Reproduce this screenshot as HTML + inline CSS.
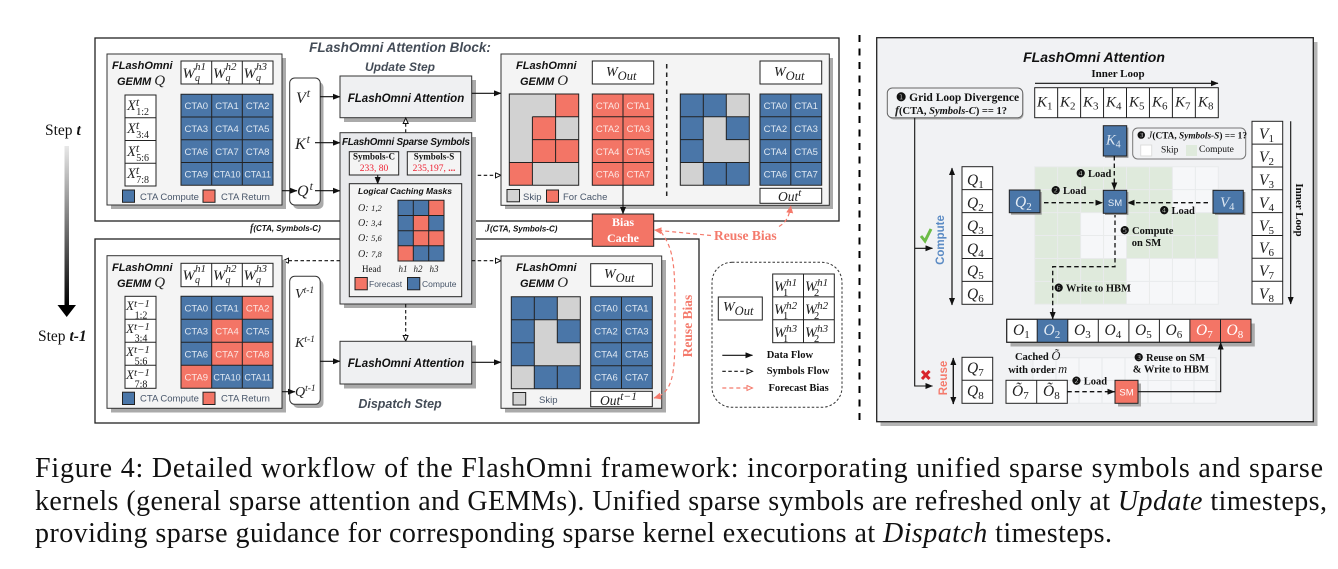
<!DOCTYPE html>
<html><head><meta charset="utf-8"><style>
html,body{margin:0;padding:0;background:#fff}
svg{display:block}
text{font-family:"Liberation Sans",sans-serif;fill:#111}
.s{font-family:"Liberation Serif",serif}
.m{font-family:"Liberation Serif",serif;font-style:italic;fill:#222}
.bi{font-weight:bold;font-style:italic}
.b{font-weight:bold}
.c{fill:#dfe8f2;font-size:9.5px;text-anchor:middle}
.cr{fill:#fde6e2;font-size:9.5px;text-anchor:middle}
.l{font-size:9.5px;fill:#48566a}
.box{stroke:#222;stroke-width:1;fill:#fff}
.g{stroke:#222;stroke-width:1;fill:none}
.a{stroke:#111;stroke-width:1.1;fill:none}
.d{stroke:#111;stroke-width:1.1;fill:none;stroke-dasharray:3.5 2.5}
.dk{stroke:#111;stroke-width:1.3;fill:none;stroke-dasharray:4.5 3}
.r{stroke:#f47a6c;stroke-width:1.2;fill:none;stroke-dasharray:4 3}
.bl{fill:#4a76a8}.re{fill:#f37566}.gr{fill:#d2d2d2}
</style></head><body>
<svg width="1338" height="569" viewBox="0 0 1338 569" xmlns="http://www.w3.org/2000/svg">
<defs>
<marker id="ah" markerWidth="8" markerHeight="6" refX="7" refY="3" orient="auto" markerUnits="userSpaceOnUse"><path d="M0,0L7.5,3L0,6z" fill="#111"/></marker>
<marker id="ao" markerWidth="8" markerHeight="7" refX="6" refY="3" orient="auto" markerUnits="userSpaceOnUse"><path d="M0.5,0.5L6,3L0.5,5.5z" fill="#fff" stroke="#111"/></marker>
<marker id="ar" markerWidth="9" markerHeight="8" refX="7" refY="3.5" orient="auto" markerUnits="userSpaceOnUse"><path d="M0,0L7.5,3.5L0,7z" fill="#f47a6c"/></marker>
<marker id="aro" markerWidth="8" markerHeight="7" refX="6" refY="3" orient="auto" markerUnits="userSpaceOnUse"><path d="M0.5,0.5L6,3L0.5,5.5z" fill="#fff" stroke="#f47a6c"/></marker>
<linearGradient id="gd" x1="0" y1="0" x2="0" y2="1"><stop offset="0" stop-color="#e8e8e8"/><stop offset="1" stop-color="#000"/></linearGradient>
</defs>

<!-- Step arrow -->
<text x="45" y="135" class="s" font-size="15.5">Step <tspan class="b" font-style="italic">t</tspan></text>
<rect x="64.5" y="146" width="4.5" height="160" fill="url(#gd)"/>
<path d="M57.5,305H76L66.7,317z" fill="#000"/>
<text x="38" y="341" class="s" font-size="15.5">Step <tspan class="b" font-style="italic">t-1</tspan></text>

<!-- Outer boxes -->
<rect x="95" y="38" width="744" height="183" fill="#fff" stroke="#222" stroke-width="1.3"/>
<rect x="95" y="239" width="604" height="184" fill="#fff" stroke="#222" stroke-width="1.3"/>
<text x="400" y="52" text-anchor="middle" class="bi" font-size="13.5" style="fill:#444c57">FLashOmni Attention Block:</text>
<text x="400" y="71" text-anchor="middle" class="bi" font-size="12" style="fill:#444c57">Update Step</text>
<text x="400" y="408" text-anchor="middle" class="bi" font-size="12.5" style="fill:#444c57">Dispatch Step</text>

<!-- Upper GEMM Q -->
<rect x="111" y="58" width="175" height="151" fill="#aaa"/>
<rect x="107" y="54" width="175" height="151" fill="#f4f4f4" stroke="#333"/>
<text x="112" y="69" class="bi" font-size="11">FLashOmni</text>
<text x="117" y="85" class="bi" font-size="11">GEMM <tspan class="m" font-size="15" font-weight="normal">Q</tspan></text>
<rect x="181" y="61" width="92" height="23" class="box"/><path d="M211.7,61V84M242.3,61V84" class="g"/>
<text x="182.5" y="78" class="m" font-size="15">W<tspan dy="3" font-size="10">q</tspan><tspan dy="-11" dx="-5" font-size="11">h1</tspan></text>
<text x="213" y="78" class="m" font-size="15">W<tspan dy="3" font-size="10">q</tspan><tspan dy="-11" dx="-5" font-size="11">h2</tspan></text>
<text x="243.5" y="78" class="m" font-size="15">W<tspan dy="3" font-size="10">q</tspan><tspan dy="-11" dx="-5" font-size="11">h3</tspan></text>
<rect x="125" y="95" width="31" height="91" class="box"/><path d="M125,117.7H156M125,140.5H156M125,163.2H156" class="g"/>
<text x="127" y="110" class="m" font-size="14.5">X<tspan dy="-4" dx="0" font-size="12">t</tspan><tspan dy="9" dx="-3" font-size="10" font-style="normal">1:2</tspan></text>
<text x="127" y="133" class="m" font-size="14.5">X<tspan dy="-4" font-size="12">t</tspan><tspan dy="9" dx="-3" font-size="10" font-style="normal">3:4</tspan></text>
<text x="127" y="156" class="m" font-size="14.5">X<tspan dy="-4" font-size="12">t</tspan><tspan dy="9" dx="-3" font-size="10" font-style="normal">5:6</tspan></text>
<text x="127" y="178" class="m" font-size="14.5">X<tspan dy="-4" font-size="12">t</tspan><tspan dy="9" dx="-3" font-size="10" font-style="normal">7:8</tspan></text>
<rect x="181" y="94.3" width="92" height="91" class="bl"/>
<path d="M181,94.3H273V185.3H181zM211.7,94.3V185.3M242.3,94.3V185.3M181,117H273M181,139.8H273M181,162.5H273" class="g"/>
<text class="c" x="196.3" y="109">CTA0</text><text class="c" x="227" y="109">CTA1</text><text class="c" x="257.7" y="109">CTA2</text>
<text class="c" x="196.3" y="132">CTA3</text><text class="c" x="227" y="132">CTA4</text><text class="c" x="257.7" y="132">CTA5</text>
<text class="c" x="196.3" y="155">CTA6</text><text class="c" x="227" y="155">CTA7</text><text class="c" x="257.7" y="155">CTA8</text>
<text class="c" x="196.3" y="177.5">CTA9</text><text class="c" x="227" y="177.5" style="font-size:9px">CTA10</text><text class="c" x="257.7" y="177.5" style="font-size:9px">CTA11</text>
<rect x="122.5" y="190" width="12" height="12.3" class="bl" stroke="#222"/><text x="140" y="200" class="l">CTA Compute</text>
<rect x="203" y="190" width="12" height="12.3" class="re" stroke="#222"/><text x="221" y="200" class="l">CTA Return</text>

<!-- Upper VKQ -->
<rect x="293" y="82" width="30.5" height="127" rx="5" fill="#aaa"/>
<rect x="289.7" y="78" width="30.5" height="127" rx="5" fill="#fff" stroke="#333"/>
<text x="296" y="103" class="m" font-size="16">V<tspan dy="-6" dx="1" font-size="12">t</tspan></text>
<text x="295" y="149" class="m" font-size="16">K<tspan dy="-6" dx="1" font-size="12">t</tspan></text>
<text x="297" y="196" class="m" font-size="16">Q<tspan dy="-6" dx="1" font-size="12">t</tspan></text>
<path d="M320,96.7H340" class="a" marker-end="url(#ah)"/>
<path d="M315,142.7H340" class="a" marker-end="url(#ah)"/>
<path d="M315,190.7H340" class="a" marker-end="url(#ah)"/>
<path d="M282,190.7H297" class="a" marker-end="url(#ah)"/>

<!-- Upper attention -->
<rect x="344" y="80" width="132" height="42" fill="#aaa"/>
<rect x="340" y="76" width="131.7" height="41.7" fill="#eff0f2" stroke="#333"/>
<text x="406" y="102" text-anchor="middle" class="bi" font-size="11.5">FLashOmni Attention</text>
<path d="M471.7,93.3H501" class="a" marker-end="url(#ah)"/>
<path d="M471.7,175.3H501" class="d" marker-end="url(#ao)"/>
<path d="M405.7,132.7V118" class="d" marker-end="url(#ao)"/>

<!-- Upper GEMM O -->
<rect x="505" y="58" width="328" height="151" fill="#aaa"/>
<rect x="501" y="54" width="328.3" height="151.3" fill="#f4f4f4" stroke="#333"/>
<text x="516" y="69" class="bi" font-size="11">FLashOmni</text>
<text x="520" y="85" class="bi" font-size="11">GEMM <tspan class="m" font-size="15" font-weight="normal">O</tspan></text>
<rect x="592.3" y="61" width="61.4" height="23" class="box"/>
<text x="606" y="76" class="m" font-size="14">W<tspan dy="4" font-size="12.5">Out</tspan></text>
<rect x="760" y="61" width="61.7" height="23" class="box"/>
<text x="774" y="76" class="m" font-size="14">W<tspan dy="4" font-size="12.5">Out</tspan></text>
<path d="M666.7,64V197" stroke="#222" stroke-width="1.5" stroke-dasharray="4.5 4"/>
<!-- grid1 -->
<rect x="509.3" y="94" width="69.4" height="91.3" class="gr"/>
<rect x="555.6" y="94" width="23.1" height="22.8" class="re"/><rect x="532.4" y="116.8" width="23.2" height="22.8" class="re"/><rect x="532.4" y="139.6" width="46.3" height="22.8" class="re"/><rect x="509.3" y="162.5" width="23.1" height="22.8" class="re"/>
<path d="M509.3,94H578.7V185.3H509.3zM555.6,94V116.8H578.7M532.4,116.8H555.6V162.5M555.6,116.8V162.5M532.4,139.6H578.7M509.3,162.5H578.7M532.4,116.8V185.3" class="g"/>
<!-- red CTA -->
<rect x="592.3" y="94" width="61.4" height="91.3" class="re"/>
<path d="M592.3,94H653.7V185.3H592.3zM623,94V185.3M592.3,116.8H653.7M592.3,139.6H653.7M592.3,162.5H653.7" class="g"/>
<text class="cr" x="607.7" y="109">CTA0</text><text class="cr" x="638.4" y="109">CTA1</text>
<text class="cr" x="607.7" y="132">CTA2</text><text class="cr" x="638.4" y="132">CTA3</text>
<text class="cr" x="607.7" y="155">CTA4</text><text class="cr" x="638.4" y="155">CTA5</text>
<text class="cr" x="607.7" y="177.5">CTA6</text><text class="cr" x="638.4" y="177.5">CTA7</text>
<!-- grid2 -->
<rect x="680.3" y="94" width="69" height="91.3" class="gr"/>
<rect x="680.3" y="94" width="46" height="22.8" class="bl"/><rect x="680.3" y="116.8" width="23" height="45.6" class="bl"/><rect x="726.3" y="116.8" width="23" height="22.8" class="bl"/><rect x="703.3" y="162.5" width="46" height="22.8" class="bl"/>
<path d="M680.3,94H749.3V185.3H680.3zM703.3,94V185.3M726.3,94V139.6H749.3M680.3,116.8H749.3M680.3,139.6H703.3M680.3,162.5H749.3M726.3,162.5V185.3" class="g"/>
<rect x="760" y="94" width="61.7" height="91.3" class="bl"/>
<path d="M760,94H821.7V185.3H760zM790.8,94V185.3M760,116.8H821.7M760,139.6H821.7M760,162.5H821.7" class="g"/>
<text class="c" x="775.4" y="109">CTA0</text><text class="c" x="806.2" y="109">CTA1</text>
<text class="c" x="775.4" y="132">CTA2</text><text class="c" x="806.2" y="132">CTA3</text>
<text class="c" x="775.4" y="155">CTA4</text><text class="c" x="806.2" y="155">CTA5</text>
<text class="c" x="775.4" y="177.5">CTA6</text><text class="c" x="806.2" y="177.5">CTA7</text>
<rect x="507" y="189.5" width="12.5" height="12.3" class="gr" stroke="#222"/><text x="523" y="200" class="l">Skip</text>
<rect x="546.5" y="190" width="12" height="12.3" class="re" stroke="#222"/><text x="563" y="200" class="l">For Cache</text>
<rect x="760" y="188.3" width="61.7" height="15" class="box"/>
<text x="778" y="201" class="m" font-size="13.5">Out<tspan dy="-5" font-size="11">t</tspan></text>

<!-- Bias cache -->
<path d="M623,185V214" class="a" marker-end="url(#ah)"/>
<rect x="592.3" y="214" width="61.4" height="32.3" class="re" stroke="#222"/>
<text x="623" y="226" text-anchor="middle" class="b s" font-size="12" style="fill:#fff">Bias</text>
<text x="623" y="242" text-anchor="middle" class="b s" font-size="12" style="fill:#fff">Cache</text>
<text x="250" y="231" class="bi" font-size="8"><tspan class="m" font-size="10">f</tspan>(CTA, Symbols-C)</text>
<text x="485" y="231.6" class="bi" font-size="8"><tspan class="m" font-size="10">J</tspan>(CTA, Symbols-C)</text>

<!-- Sparse symbols -->
<rect x="344" y="137" width="132" height="171" fill="#aaa"/>
<rect x="340" y="132.7" width="131.7" height="171.3" fill="#e8e9ec" stroke="#333"/>
<text x="342" y="145" class="bi" font-size="9.8" textLength="128">FLashOmni Sparse Symbols</text>
<rect x="349.3" y="151.7" width="49.4" height="23.3" class="box" style="fill:#f4f4f4"/>
<rect x="407.3" y="151.7" width="53.4" height="23.3" class="box" style="fill:#f4f4f4"/>
<text x="374" y="159.5" text-anchor="middle" class="b s" font-size="9">Symbols-C</text>
<text x="434" y="159.5" text-anchor="middle" class="b s" font-size="9">Symbols-S</text>
<text x="374" y="171" text-anchor="middle" class="s" font-size="9.5" style="fill:#ee2233">233, 80</text>
<text x="434" y="171" text-anchor="middle" class="s" font-size="9.5" style="fill:#ee2233">235,197, <tspan font-weight="bold">...</tspan></text>
<path d="M377.7,175V184" class="a" marker-end="url(#ah)"/>
<rect x="349.3" y="183.7" width="112.4" height="113" class="box" style="fill:#f4f4f4"/>
<text x="405" y="194" text-anchor="middle" class="bi" font-size="8.5">Logical Caching Masks</text>
<text x="358" y="211" class="m" font-size="10">O: <tspan font-size="8.5">1,2</tspan></text>
<text x="358" y="226" class="m" font-size="10">O: <tspan font-size="8.5">3,4</tspan></text>
<text x="358" y="241" class="m" font-size="10">O: <tspan font-size="8.5">5,6</tspan></text>
<text x="358" y="257" class="m" font-size="10">O: <tspan font-size="8.5">7,8</tspan></text>
<rect x="398" y="200.3" width="46" height="60.7" class="bl"/>
<rect x="428.7" y="200.3" width="15.3" height="15.2" class="re"/><rect x="413.3" y="215.5" width="15.4" height="15.2" class="re"/><rect x="413.3" y="230.7" width="30.7" height="15.1" class="re"/><rect x="398" y="245.8" width="15.3" height="15.2" class="re"/>
<path d="M398,200.3H444V261H398zM413.3,200.3V261M428.7,200.3V261M398,215.5H444M398,230.7H444M398,245.8H444" class="g"/>
<text x="362" y="272" class="s" font-size="9" fill="#333">Head</text>
<text x="403" y="272" text-anchor="middle" class="m" font-size="9">h1</text><text x="418" y="272" text-anchor="middle" class="m" font-size="9">h2</text><text x="434" y="272" text-anchor="middle" class="m" font-size="9">h3</text>
<rect x="355" y="277.5" width="12.3" height="12.3" class="re" stroke="#222"/><text x="369" y="287" class="l" style="font-size:8.5px">Forecast</text>
<rect x="407.5" y="277.5" width="12.3" height="12.3" class="bl" stroke="#222"/><text x="422" y="287" class="l" style="font-size:8.5px">Compute</text>

<path d="M340,260.7H283" class="d" marker-end="url(#ao)"/>
<path d="M471.7,260.7H501" class="d" marker-end="url(#ao)"/>
<path d="M405.7,304V341" class="d" marker-end="url(#ao)"/>

<!-- Lower GEMM Q -->
<rect x="111" y="260" width="175" height="152.5" fill="#aaa"/>
<rect x="107" y="255.7" width="175" height="152.6" fill="#f4f4f4" stroke="#333"/>
<text x="112" y="271" class="bi" font-size="11">FLashOmni</text>
<text x="117" y="287" class="bi" font-size="11">GEMM <tspan class="m" font-size="15" font-weight="normal">Q</tspan></text>
<rect x="181" y="263.3" width="92" height="23.4" class="box"/><path d="M211.7,263.3V286.7M242.3,263.3V286.7" class="g"/>
<text x="182.5" y="280" class="m" font-size="15">W<tspan dy="3" font-size="10">q</tspan><tspan dy="-11" dx="-5" font-size="11">h1</tspan></text>
<text x="213" y="280" class="m" font-size="15">W<tspan dy="3" font-size="10">q</tspan><tspan dy="-11" dx="-5" font-size="11">h2</tspan></text>
<text x="243.5" y="280" class="m" font-size="15">W<tspan dy="3" font-size="10">q</tspan><tspan dy="-11" dx="-5" font-size="11">h3</tspan></text>
<rect x="125" y="296.3" width="31" height="92" class="box"/><path d="M125,319.3H156M125,342.3H156M125,365.3H156" class="g"/>
<text x="126" y="310" class="m" font-size="13">X<tspan dy="-3" font-size="11">t−1</tspan></text><text x="141" y="318.5" text-anchor="middle" class="s" font-size="10">1:2</text>
<text x="126" y="333" class="m" font-size="13">X<tspan dy="-3" font-size="11">t−1</tspan></text><text x="141" y="341.5" text-anchor="middle" class="s" font-size="10">3:4</text>
<text x="126" y="356" class="m" font-size="13">X<tspan dy="-3" font-size="11">t−1</tspan></text><text x="141" y="364.5" text-anchor="middle" class="s" font-size="10">5:6</text>
<text x="126" y="379" class="m" font-size="13">X<tspan dy="-3" font-size="11">t−1</tspan></text><text x="141" y="387.5" text-anchor="middle" class="s" font-size="10">7:8</text>
<rect x="181" y="296.3" width="92" height="92" class="bl"/>
<rect x="242.3" y="296.3" width="30.7" height="23" class="re"/><rect x="211.7" y="319.3" width="30.6" height="23" class="re"/><rect x="211.7" y="342.3" width="61.3" height="23" class="re"/><rect x="181" y="365.3" width="30.7" height="23" class="re"/>
<path d="M181,296.3H273V388.3H181zM211.7,296.3V388.3M242.3,296.3V388.3M181,319.3H273M181,342.3H273M181,365.3H273" class="g"/>
<text class="c" x="196.3" y="311.3">CTA0</text><text class="c" x="227" y="311.3">CTA1</text><text class="cr" x="257.7" y="311.3">CTA2</text>
<text class="c" x="196.3" y="334.3">CTA3</text><text class="cr" x="227" y="334.3">CTA4</text><text class="c" x="257.7" y="334.3">CTA5</text>
<text class="c" x="196.3" y="357.3">CTA6</text><text class="cr" x="227" y="357.3">CTA7</text><text class="cr" x="257.7" y="357.3">CTA8</text>
<text class="cr" x="196.3" y="380.3">CTA9</text><text class="c" x="227" y="380.3" style="font-size:9px">CTA10</text><text class="c" x="257.7" y="380.3" style="font-size:9px">CTA11</text>
<rect x="122.5" y="392.2" width="12" height="12.3" class="bl" stroke="#222"/><text x="140" y="401.5" class="l">CTA Compute</text>
<rect x="203" y="392.2" width="12" height="12.3" class="re" stroke="#222"/><text x="221" y="401.5" class="l">CTA Return</text>

<!-- Lower VKQ -->
<rect x="293" y="280" width="30.5" height="128" rx="5" fill="#aaa"/>
<rect x="289.7" y="276.3" width="30.5" height="128" rx="5" fill="#fff" stroke="#333"/>
<text x="295" y="298" class="m" font-size="14">V<tspan dy="-5" font-size="9.5">t-1</tspan></text>
<text x="295" y="347" class="m" font-size="14">K<tspan dy="-5" font-size="9.5">t-1</tspan></text>
<text x="295" y="396" class="m" font-size="14">Q<tspan dy="-5" font-size="9.5">t-1</tspan></text>
<path d="M282,391.7H295" class="a" marker-end="url(#ah)"/>
<path d="M320,361.3H340" class="a" marker-end="url(#ah)"/>
<rect x="344" y="345.5" width="132" height="43" fill="#aaa"/>
<rect x="340" y="341.3" width="131.7" height="42.7" fill="#eff0f2" stroke="#333"/>
<text x="406" y="367" text-anchor="middle" class="bi" font-size="11.5">FLashOmni Attention</text>
<path d="M471.7,362.3H501" class="a" marker-end="url(#ah)"/>

<!-- Lower GEMM O -->
<rect x="505" y="260" width="161" height="152.5" fill="#aaa"/>
<rect x="501" y="256" width="160.7" height="152.3" fill="#f4f4f4" stroke="#333"/>
<text x="516" y="271" class="bi" font-size="11">FLashOmni</text>
<text x="520" y="287" class="bi" font-size="11">GEMM <tspan class="m" font-size="15" font-weight="normal">O</tspan></text>
<rect x="590.7" y="263.7" width="61.6" height="22.6" class="box"/>
<text x="604" y="278" class="m" font-size="14">W<tspan dy="4" font-size="12.5">Out</tspan></text>
<rect x="511.3" y="296.7" width="69" height="92" class="gr"/>
<rect x="511.3" y="296.7" width="46" height="23" class="bl"/><rect x="511.3" y="319.7" width="23" height="46" class="bl"/><rect x="557.3" y="319.7" width="23" height="23" class="bl"/><rect x="534.3" y="365.7" width="46" height="23" class="bl"/>
<path d="M511.3,296.7H580.3V388.7H511.3zM534.3,296.7V388.7M557.3,296.7V342.7H580.3M511.3,319.7H580.3M511.3,342.7H534.3M511.3,365.7H580.3M557.3,365.7V388.7" class="g"/>
<rect x="590.7" y="296.7" width="61.6" height="92" class="bl"/>
<path d="M590.7,296.7H652.3V388.7H590.7zM621.5,296.7V388.7M590.7,319.7H652.3M590.7,342.7H652.3M590.7,365.7H652.3" class="g"/>
<text class="c" x="606" y="311.5">CTA0</text><text class="c" x="636.8" y="311.5">CTA1</text>
<text class="c" x="606" y="334.5">CTA2</text><text class="c" x="636.8" y="334.5">CTA3</text>
<text class="c" x="606" y="357.5">CTA4</text><text class="c" x="636.8" y="357.5">CTA5</text>
<text class="c" x="606" y="380.5">CTA6</text><text class="c" x="636.8" y="380.5">CTA7</text>
<rect x="513" y="392.5" width="12.7" height="12.5" class="gr" stroke="#222"/><text x="539" y="403" class="l">Skip</text>
<rect x="590.7" y="391.3" width="61.6" height="15.4" class="box"/>
<text x="600" y="405" class="m" font-size="13.5">Out<tspan dy="-5" font-size="11.5">t−1</tspan></text>

<!-- Reuse bias -->
<path d="M711,235.5L654.5,230" class="r" marker-end="url(#ar)"/>
<path d="M779,226.5C785,223 789,218 790.7,206" class="r" marker-end="url(#ar)"/>
<text x="714" y="240" class="b s" font-size="13.5" style="fill:#f47a6c">Reuse Bias</text>
<path d="M661,232C675,250 675,270 675,320C675,370 675,392 654,398" class="r" marker-end="url(#ar)"/>
<text transform="translate(692,326) rotate(-90)" text-anchor="middle" class="b s" font-size="13.5" style="fill:#f47a6c">Reuse Bias</text>

<!-- Legend -->
<rect x="712" y="262.3" width="130" height="145" rx="20" fill="#fff" stroke="#333" stroke-dasharray="2.5 2"/>
<rect x="718.3" y="297" width="44" height="23" class="box"/>
<text x="723" y="311" class="m" font-size="14">W<tspan dy="4" font-size="12.5">Out</tspan></text>
<rect x="772.7" y="274" width="61.6" height="68.7" class="box"/><path d="M803.5,274V342.7M772.7,296.9H834.3M772.7,319.8H834.3" class="g"/>
<text x="774" y="291" class="m" font-size="14.5">W<tspan dy="-5" font-size="11">h1</tspan></text><text x="783" y="296" class="s" font-size="10.5">1</text>
<text x="805" y="291" class="m" font-size="14.5">W<tspan dy="-5" font-size="11">h1</tspan></text><text x="814" y="296" class="s" font-size="10.5">2</text>
<text x="774" y="314" class="m" font-size="14.5">W<tspan dy="-5" font-size="11">h2</tspan></text><text x="783" y="319" class="s" font-size="10.5">1</text>
<text x="805" y="314" class="m" font-size="14.5">W<tspan dy="-5" font-size="11">h2</tspan></text><text x="814" y="319" class="s" font-size="10.5">2</text>
<text x="774" y="337" class="m" font-size="14.5">W<tspan dy="-5" font-size="11">h3</tspan></text><text x="783" y="342" class="s" font-size="10.5">1</text>
<text x="805" y="337" class="m" font-size="14.5">W<tspan dy="-5" font-size="11">h3</tspan></text><text x="814" y="342" class="s" font-size="10.5">2</text>
<path d="M722.3,355.3H752.5" class="a" marker-end="url(#ah)"/><text x="766.7" y="358" class="b s" font-size="10.5">Data Flow</text>
<path d="M722.3,371.3H752.5" class="d" marker-end="url(#ao)"/><text x="766.7" y="374" class="b s" font-size="10.5">Symbols Flow</text>
<path d="M722.3,388H752.5" class="r" marker-end="url(#aro)"/><text x="768.5" y="391" class="b s" font-size="10.5">Forecast Bias</text>

<!-- Divider -->
<path d="M859.5,35V426" stroke="#000" stroke-width="2" stroke-dasharray="7 6.5"/>

<!-- Right panel -->
<rect x="880.5" y="42" width="437" height="384" fill="#b5b5b5"/>
<rect x="876.7" y="37.7" width="436.6" height="384" fill="#f1f2f4" stroke="#222" stroke-width="1.3"/>
<text x="1094" y="62" text-anchor="middle" class="bi" font-size="14">FLashOmni Attention</text>
<text x="1118" y="77" text-anchor="middle" class="b s" font-size="11">Inner Loop</text>
<path d="M1035,83.3H1218" class="a" marker-end="url(#ah)"/>
<rect x="1034.7" y="87.7" width="183.6" height="30" class="box"/>
<path d="M1057.65,87.7V117.7M1080.6,87.7V117.7M1103.55,87.7V117.7M1126.5,87.7V117.7M1149.45,87.7V117.7M1172.4,87.7V117.7M1195.35,87.7V117.7" class="g"/>
<text x="1037" y="106.5" class="m" font-size="15">K<tspan dy="3" font-size="11" font-style="normal">1</tspan></text>
<text x="1060" y="106.5" class="m" font-size="15">K<tspan dy="3" font-size="11" font-style="normal">2</tspan></text>
<text x="1083" y="106.5" class="m" font-size="15">K<tspan dy="3" font-size="11" font-style="normal">3</tspan></text>
<text x="1106" y="106.5" class="m" font-size="15">K<tspan dy="3" font-size="11" font-style="normal">4</tspan></text>
<text x="1129" y="106.5" class="m" font-size="15">K<tspan dy="3" font-size="11" font-style="normal">5</tspan></text>
<text x="1152" y="106.5" class="m" font-size="15">K<tspan dy="3" font-size="11" font-style="normal">6</tspan></text>
<text x="1175" y="106.5" class="m" font-size="15">K<tspan dy="3" font-size="11" font-style="normal">7</tspan></text>
<text x="1198" y="106.5" class="m" font-size="15">K<tspan dy="3" font-size="11" font-style="normal">8</tspan></text>
<rect x="888.5" y="89.5" width="135" height="30" rx="5" fill="#aaa"/>
<rect x="887.3" y="88" width="135.4" height="29.7" rx="5" fill="#f1f2f4" stroke="#666"/>
<text x="896" y="101" class="b s" font-size="11.5">❶ Grid Loop Divergence</text>
<text x="895" y="114" class="b s" font-size="10.5"><tspan class="m" font-size="12">f</tspan>(CTA, <tspan font-style="italic">Symbols-C</tspan>) == 1?</text>

<!-- main grid -->
<rect x="1034.7" y="166.7" width="183.6" height="137.6" fill="#dfeadc"/>
<rect x="1172.4" y="166.7" width="45.9" height="45.9" fill="#f6f7f9"/>
<rect x="1080.6" y="212.6" width="45.9" height="45.9" fill="#f6f7f9"/>
<rect x="1126.5" y="258.5" width="91.8" height="45.8" fill="#f6f7f9"/>
<path d="M1034.7,166.7H1218.3V304.3H1034.7zM1057.65,166.7V304.3M1080.6,166.7V304.3M1103.55,166.7V304.3M1126.5,166.7V304.3M1149.45,166.7V304.3M1172.4,166.7V304.3M1195.35,166.7V304.3M1034.7,189.6H1218.3M1034.7,212.6H1218.3M1034.7,235.5H1218.3M1034.7,258.5H1218.3M1034.7,281.4H1218.3" stroke="#e9ebec" stroke-width="1" fill="none"/>
<!-- lower grid -->
<rect x="1033" y="357.7" width="183" height="45.6" fill="#f6f7f9"/>
<path d="M1033,357.7H1216V403.3H1033zM1056,357.7V403.3M1079,357.7V403.3M1102,357.7V403.3M1125,357.7V403.3M1148,357.7V403.3M1171,357.7V403.3M1194,357.7V403.3M1033,380.5H1216" stroke="#e6e8ea" fill="none"/>

<!-- Q/V cols -->
<rect x="962" y="166.7" width="30.7" height="137.6" class="box"/>
<path d="M962,189.6H992.7M962,212.6H992.7M962,235.5H992.7M962,258.5H992.7M962,281.4H992.7" class="g"/>
<text x="967" y="185" class="m" font-size="15.5">Q<tspan dy="3" font-size="11" font-style="normal">1</tspan></text>
<text x="967" y="208" class="m" font-size="15.5">Q<tspan dy="3" font-size="11" font-style="normal">2</tspan></text>
<text x="967" y="231" class="m" font-size="15.5">Q<tspan dy="3" font-size="11" font-style="normal">3</tspan></text>
<text x="967" y="254" class="m" font-size="15.5">Q<tspan dy="3" font-size="11" font-style="normal">4</tspan></text>
<text x="967" y="276" class="m" font-size="15.5">Q<tspan dy="3" font-size="11" font-style="normal">5</tspan></text>
<text x="967" y="299" class="m" font-size="15.5">Q<tspan dy="3" font-size="11" font-style="normal">6</tspan></text>
<rect x="962" y="357.3" width="30.7" height="46" class="box"/><path d="M962,380.3H992.7" class="g"/>
<text x="967" y="373" class="m" font-size="15.5">Q<tspan dy="3" font-size="11" font-style="normal">7</tspan></text>
<text x="967" y="396" class="m" font-size="15.5">Q<tspan dy="3" font-size="11" font-style="normal">8</tspan></text>
<path d="M952,305V168" class="a" marker-end="url(#ah)"/><path d="M952,168V305" class="a" marker-end="url(#ah)"/>
<path d="M953.3,404V358" class="a" marker-end="url(#ah)"/><path d="M953.3,358V404" class="a" marker-end="url(#ah)"/>
<rect x="1252" y="121.3" width="30.7" height="182.7" class="box"/>
<path d="M1252,144.1H1282.7M1252,167H1282.7M1252,189.8H1282.7M1252,212.6H1282.7M1252,235.5H1282.7M1252,258.3H1282.7M1252,281.2H1282.7" class="g"/>
<text x="1259" y="139" class="m" font-size="15.5">V<tspan dy="3" font-size="11" font-style="normal">1</tspan></text>
<text x="1259" y="162" class="m" font-size="15.5">V<tspan dy="3" font-size="11" font-style="normal">2</tspan></text>
<text x="1259" y="185" class="m" font-size="15.5">V<tspan dy="3" font-size="11" font-style="normal">3</tspan></text>
<text x="1259" y="208" class="m" font-size="15.5">V<tspan dy="3" font-size="11" font-style="normal">4</tspan></text>
<text x="1259" y="231" class="m" font-size="15.5">V<tspan dy="3" font-size="11" font-style="normal">5</tspan></text>
<text x="1259" y="253" class="m" font-size="15.5">V<tspan dy="3" font-size="11" font-style="normal">6</tspan></text>
<text x="1259" y="276" class="m" font-size="15.5">V<tspan dy="3" font-size="11" font-style="normal">7</tspan></text>
<text x="1259" y="299" class="m" font-size="15.5">V<tspan dy="3" font-size="11" font-style="normal">8</tspan></text>
<path d="M1290.7,121.3V304" class="a" marker-end="url(#ah)"/>
<text transform="translate(1296,210) rotate(90)" text-anchor="middle" class="b s" font-size="11">Inner Loop</text>

<!-- left bracket lines -->
<path d="M914.7,117.7V386H932.5" class="a" stroke-width="1.2" marker-end="url(#ah)"/>
<path d="M914.7,248.3H932.5" class="a" marker-end="url(#ah)"/>
<path d="M921,236L925,241L931,229" stroke="#6cbb47" stroke-width="3" fill="none"/>
<path d="M922,371L929.5,379M929.5,371L922,379" stroke="#d8232a" stroke-width="3" fill="none"/>
<text transform="translate(944,240) rotate(-90)" text-anchor="middle" class="b" font-size="11.5" style="fill:#5b8bc4">Compute</text>
<text transform="translate(947,378) rotate(-90)" text-anchor="middle" class="b" font-size="11.5" style="fill:#f47a6c">Reuse</text>

<!-- K4 SM etc -->
<rect x="1105" y="127.5" width="23.4" height="30.3" fill="#999"/>
<rect x="1103.3" y="125.7" width="23.4" height="30.3" class="bl" stroke="#222"/>
<text x="1106" y="144.5" class="m" font-size="14.5" style="fill:#dfe8f2">K<tspan dy="3" font-size="10" font-style="normal" style="fill:#dfe8f2">4</tspan></text>
<rect x="1132.7" y="128" width="113" height="31" rx="5" fill="#f1f2f4" stroke="#777"/>
<text x="1137" y="138.5" class="b s" font-size="9.3">❸ <tspan class="m" font-size="10.5" font-weight="normal">J</tspan>(CTA, <tspan font-style="italic">Symbols-S</tspan>) == 1?</text>
<rect x="1140.7" y="145" width="11" height="11" fill="#fff" stroke="#ddd"/><text x="1161" y="152.5" class="s" font-size="9.5" fill="#444">Skip</text>
<rect x="1186" y="145" width="11" height="11" fill="#dfeadc"/><text x="1199" y="152" class="s" font-size="9.5" fill="#444">Compute</text>

<path d="M1114.3,156V189.5" class="dk" marker-end="url(#ah)"/>
<path d="M1044,202.7H1102.5" class="dk" marker-end="url(#ah)"/>
<path d="M1208,202.7H1127.5" class="dk" marker-end="url(#ah)"/>
<path d="M1115,213V266.7H1052.7V319" class="dk" marker-end="url(#ah)"/>
<rect x="1011" y="192" width="30.7" height="22.7" fill="#999"/>
<rect x="1009.3" y="190" width="30.7" height="22.7" class="bl" stroke="#222"/>
<text x="1015" y="207" class="m" font-size="15.5" style="fill:#e6edf5">Q<tspan dy="3" font-size="11" font-style="normal" style="fill:#e6edf5">2</tspan></text>
<rect x="1105" y="192" width="23.4" height="23" fill="#999"/>
<rect x="1103.3" y="190.3" width="23.4" height="23" class="bl" stroke="#222"/>
<text x="1115" y="206" text-anchor="middle" font-size="9.5" style="fill:#e6edf5">SM</text>
<rect x="1215" y="192" width="30.3" height="23" fill="#999"/>
<rect x="1213" y="190.3" width="30.3" height="23" class="bl" stroke="#222"/>
<text x="1220" y="207" class="m" font-size="15" style="fill:#dfe8f2">V<tspan dy="3" font-size="10.5" font-style="normal" style="fill:#dfe8f2">4</tspan></text>

<text x="1076" y="177" class="b s" font-size="10.5">❹ Load</text>
<text x="1051" y="194" class="b s" font-size="10.5">❷ Load</text>
<text x="1159.5" y="214" class="b s" font-size="10.5">❹ Load</text>
<text x="1120" y="234" class="b s" font-size="10.5">❺ Compute</text>
<text x="1131.7" y="246" class="b s" font-size="10.5">on SM</text>
<text x="1054" y="291.5" class="b s" font-size="10.5">❻ Write to HBM</text>

<!-- O row -->
<rect x="1010.5" y="323.5" width="244.3" height="23" fill="#aaa"/>
<rect x="1006.7" y="319.3" width="244.3" height="23" fill="#fff" stroke="#222"/>
<rect x="1037.2" y="319.3" width="30.6" height="23" class="bl"/>
<rect x="1189.9" y="319.3" width="61.1" height="23" class="re"/>
<path d="M1006.7,319.3H1251V342.3H1006.7zM1037.2,319.3V342.3M1067.8,319.3V342.3M1098.3,319.3V342.3M1128.9,319.3V342.3M1159.4,319.3V342.3M1189.9,319.3V342.3M1220.5,319.3V342.3" class="g"/>
<text x="1013" y="335" class="m" font-size="15.5">O<tspan dy="3" font-size="11" font-style="normal">1</tspan></text>
<text x="1043.5" y="335" class="m" font-size="15.5" style="fill:#e6edf5">O<tspan dy="3" font-size="11" font-style="normal" style="fill:#e6edf5">2</tspan></text>
<text x="1074" y="335" class="m" font-size="15.5">O<tspan dy="3" font-size="11" font-style="normal">3</tspan></text>
<text x="1104.5" y="335" class="m" font-size="15.5">O<tspan dy="3" font-size="11" font-style="normal">4</tspan></text>
<text x="1135" y="335" class="m" font-size="15.5">O<tspan dy="3" font-size="11" font-style="normal">5</tspan></text>
<text x="1165.5" y="335" class="m" font-size="15.5">O<tspan dy="3" font-size="11" font-style="normal">6</tspan></text>
<text x="1196" y="335" class="m" font-size="15.5" style="fill:#fff">O<tspan dy="3" font-size="11" font-style="normal" style="fill:#fff">7</tspan></text>
<text x="1226.5" y="335" class="m" font-size="15.5" style="fill:#fff">O<tspan dy="3" font-size="11" font-style="normal" style="fill:#fff">8</tspan></text>

<text x="1037.7" y="360" text-anchor="middle" class="b s" font-size="10.5">Cached <tspan class="m" font-weight="normal" font-size="12.5">Õ</tspan></text>
<text x="1037.7" y="373" text-anchor="middle" class="b s" font-size="10.5">with order <tspan class="m" font-weight="normal" font-size="12.5">m</tspan></text>
<text x="1134" y="361" class="b s" font-size="10.5">❸ Reuse on SM</text>
<text x="1132.7" y="372.7" class="b s" font-size="10.5">&amp; Write to HBM</text>
<text x="1071.7" y="384.3" class="b s" font-size="10.5">❷ Load</text>

<rect x="1006" y="380.3" width="61.3" height="23" class="box"/><path d="M1036.7,380.3V403.3" class="g"/>
<text x="1012" y="396" class="m" font-size="15.5">Õ<tspan dy="3" font-size="11" font-style="normal">7</tspan></text>
<text x="1043" y="396" class="m" font-size="15.5">Õ<tspan dy="3" font-size="11" font-style="normal">8</tspan></text>
<path d="M1067.3,391.7H1114.5" class="dk" marker-end="url(#ah)"/>
<rect x="1118" y="383.5" width="23" height="23" fill="#aaa"/>
<rect x="1115" y="380.3" width="23" height="23" class="re" stroke="#222"/>
<text x="1126.5" y="395.5" text-anchor="middle" font-size="9.5" style="fill:#fff">SM</text>
<path d="M1138,391.7H1220.7V342.5" class="a" marker-end="url(#ah)"/>

<!-- Caption -->
<text x="35" y="477" class="s" font-size="28" textLength="1288" lengthAdjust="spacing">Figure 4: Detailed workflow of the FlashOmni framework: incorporating unified sparse symbols and sparse</text>
<text x="35" y="510" class="s" font-size="28" textLength="1292" lengthAdjust="spacing">kernels (general sparse attention and GEMMs). Unified sparse symbols are refreshed only at <tspan font-style="italic">Update</tspan> timesteps,</text>
<text x="35" y="542" class="s" font-size="28" textLength="1077" lengthAdjust="spacing">providing sparse guidance for corresponding sparse kernel executions at <tspan font-style="italic">Dispatch</tspan> timesteps.</text>
</svg>
</body></html>
